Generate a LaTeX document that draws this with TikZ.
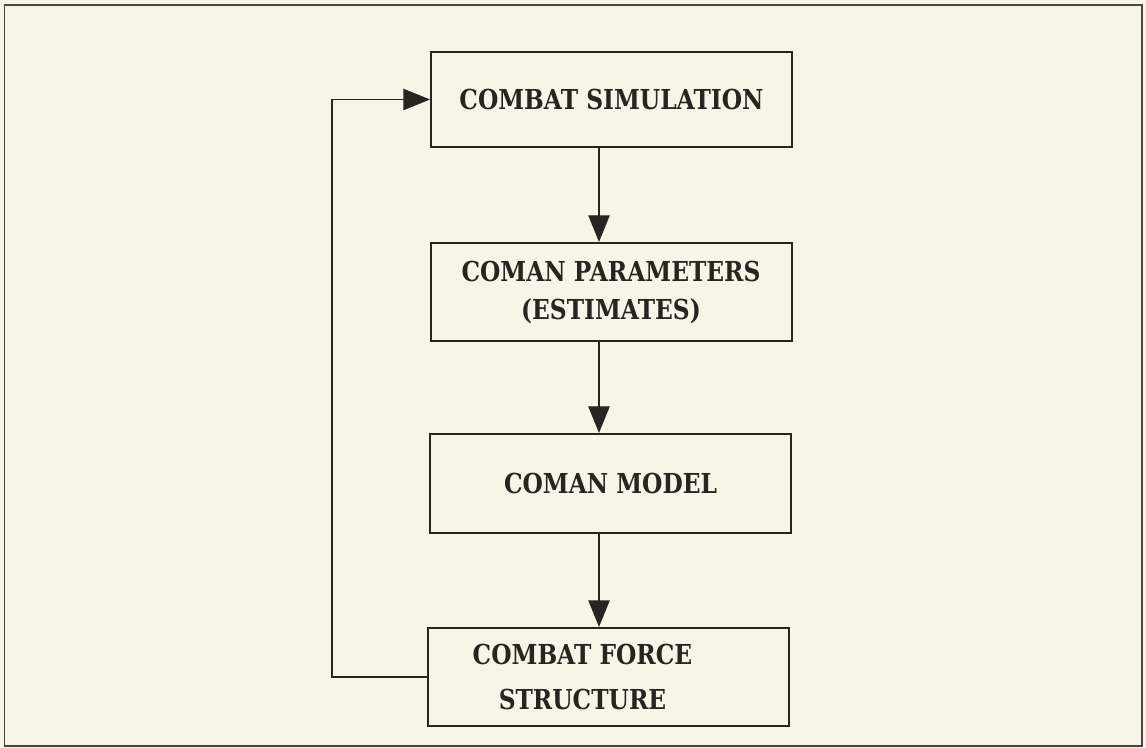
\documentclass[tikz,border=0pt]{standalone}
\usepackage{fontspec}
\newfontfamily\boxfont[FakeStretch=0.85]{DejaVu Serif}
\usetikzlibrary{arrows.meta}
\definecolor{paper}{RGB}{246,246,232}
\definecolor{ink}{RGB}{40,36,32}
\begin{document}
\begin{tikzpicture}[x=0.75pt,y=-0.75pt,
  box/.style={draw=ink, line width=1.5pt, inner sep=0pt, text=ink, align=center,
    minimum width=270.75pt,
    font=\boxfont\bfseries\fontsize{20.6}{28.5}\selectfont},
  conn/.style={draw=ink, line width=1pt, -{Triangle[length=20pt,width=16pt]}}]
\fill[paper] (0,0) rectangle (1146,748);
\useasboundingbox (0,0) rectangle (1146,748);
\draw[ink!85, line width=1.1pt] (4.5,5) rectangle (1142,746);

\node[box, minimum height=71.25pt] (b1) at (611.5,99.5) {COMBAT SIMULATION};
\node[box, minimum height=73.5pt] (b2) at (611,292) {COMAN PARAMETERS\\(ESTIMATES)};
\node[box, minimum height=74.25pt] (b3) at (610.5,483.5) {COMAN MODEL};
\node[box, minimum height=73.5pt] (b4) at (608.5,677) {\hspace*{-39pt}COMBAT FORCE\\[5.25pt]\hspace*{-39pt}STRUCTURE};

\coordinate (col) at (599,0);
\coordinate (fbx) at (332,0);

\draw[conn] (b1.south -| col) -- (b2.north -| col);
\draw[conn] (b2.south -| col) -- (b3.north -| col);
\draw[conn] (b3.south -| col) -- (b4.north -| col);
\draw[conn] (b4.west) -- (fbx |- b4.west) -- (fbx |- b1.west) -- (b1.west);
\end{tikzpicture}
\end{document}
